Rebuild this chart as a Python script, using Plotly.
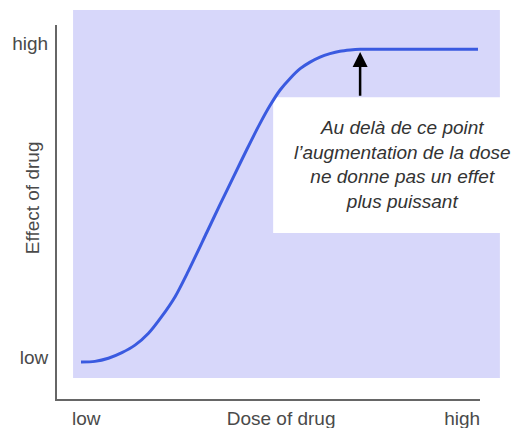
import plotly.graph_objects as go

# dose-response curve (dose 0-100, effect 0-100)
dose = [0, 3.5, 6.9, 10.3, 13.6, 17.0, 20.3, 23.7, 27.0, 31.7, 35.0, 38.4, 41.7, 45.1,
        47.6, 50.1, 52.6, 55.2, 57.7, 60.2, 62.7, 65.2, 67.8, 70.3, 80, 90, 100]
effect = [0, 0.2, 1.2, 3.0, 5.4, 9.2, 14.5, 20.9, 29.0, 41.5, 50.3, 59.2, 67.8, 76.3,
          82.0, 86.9, 90.6, 93.8, 95.9, 97.5, 98.6, 99.4, 99.8, 100, 100, 100, 100]

x_tick_vals = [1.3, 50.4, 96]
x_tick_text = ["low", "Dose of drug", "high"]
y_tick_vals = [1.6, 102.0]
y_tick_text = ["low", "high"]

note_text = "Au delà de ce point<br>l’augmentation de la dose<br>ne donne pas un effet<br>plus puissant"
arrow_dose = 70.3
arrow_tip = 99.1
arrow_tail = 84.7

font = "Liberation Sans, Arial, sans-serif"
grey = "#4a4a4a"

fig = go.Figure()

fig.add_trace(go.Scatter(
    x=dose, y=effect, mode="lines",
    line=dict(color="#3a5ae0", width=3, shape="spline", smoothing=0.8),
    hoverinfo="skip", showlegend=False,
))

# lavender background panel and white note box
fig.add_shape(type="rect", xref="paper", yref="paper",
              x0=0.038, x1=1.047, y0=0.056, y1=1.040,
              fillcolor="#d7d7fa", line=dict(width=0), layer="below")
fig.add_shape(type="rect", xref="paper", yref="paper",
              x0=0.511, x1=1.076, y0=0.444, y1=0.807,
              fillcolor="white", line=dict(width=0), layer="below")

fig.add_annotation(
    x=arrow_dose, y=arrow_tip, ax=arrow_dose, ay=arrow_tail,
    xref="x", yref="y", axref="x", ayref="y",
    text="", showarrow=True, arrowhead=2, arrowsize=1.2,
    arrowwidth=2.5, arrowcolor="black", standoff=0,
)
fig.add_annotation(
    x=81.1, y=63.3, xref="x", yref="y", text=note_text, showarrow=False,
    align="center", font=dict(family=font, size=19, color="#333333", style="italic"),
)
fig.add_annotation(
    x=-0.059, y=0.537, xref="paper", yref="paper", text="Effect of drug",
    textangle=-90, showarrow=False, xanchor="center", yanchor="middle",
    font=dict(family=font, size=19, color=grey),
)

fig.update_layout(
    width=515, height=428,
    margin=dict(l=57, r=35, t=25, b=29),
    plot_bgcolor="white", paper_bgcolor="white",
    font=dict(family=font, size=19, color=grey),
)
fig.update_xaxes(
    range=[-6.05, 100.5], showgrid=False, zeroline=False, automargin=False,
    showline=True, linecolor="#666666", linewidth=2,
    tickvals=x_tick_vals, ticktext=x_tick_text, ticks="", ticklabelstandoff=1,
)
fig.update_yaxes(
    range=[-11.83, 107.77], showgrid=False, zeroline=False, automargin=False,
    showline=True, linecolor="#666666", linewidth=2,
    tickvals=y_tick_vals, ticktext=y_tick_text, ticks="", ticklabelstandoff=3,
)

fig.write_html("out.html", config={"displayModeBar": False},
               post_script="document.body.style.margin='0';")
